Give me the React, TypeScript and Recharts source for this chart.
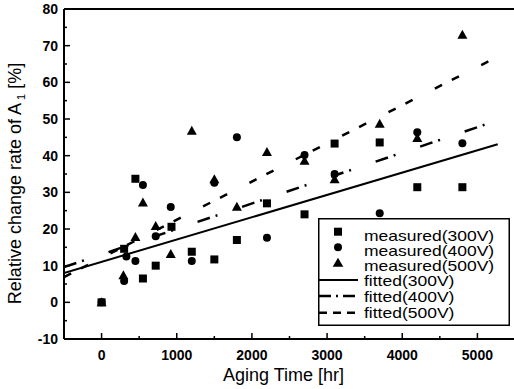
import React from 'react';
import { ComposedChart, Scatter, Line, XAxis, YAxis, ReferenceLine, Legend, Label } from 'recharts';

const FONT = '"Liberation Sans", Arial, Helvetica, sans-serif';

// measured values (hr, %)
const measured300 = [
  { x: 0, y: 0 }, { x: 300, y: 14.6 }, { x: 450, y: 33.7 }, { x: 550, y: 6.5 }, { x: 720, y: 10 },
  { x: 930, y: 20.6 }, { x: 1200, y: 13.8 }, { x: 1500, y: 11.7 }, { x: 1800, y: 17 },
  { x: 2200, y: 27 }, { x: 2700, y: 24 }, { x: 3100, y: 43.3 }, { x: 3700, y: 43.6 },
  { x: 4200, y: 31.4 }, { x: 4800, y: 31.4 },
];
const measured400 = [
  { x: 0, y: 0 }, { x: 300, y: 5.8 }, { x: 330, y: 12.5 }, { x: 450, y: 11.3 }, { x: 550, y: 32 },
  { x: 720, y: 18 }, { x: 920, y: 26 }, { x: 1200, y: 11.3 }, { x: 1500, y: 32.6 }, { x: 1800, y: 45 },
  { x: 2200, y: 17.6 }, { x: 2700, y: 40.2 }, { x: 3100, y: 35 }, { x: 3700, y: 24.3 },
  { x: 4200, y: 46.4 }, { x: 4800, y: 43.4 },
];
const measured500 = [
  { x: 0, y: 0 }, { x: 290, y: 7.4 }, { x: 450, y: 17.8 }, { x: 550, y: 27.2 }, { x: 720, y: 20.8 },
  { x: 920, y: 13.2 }, { x: 1200, y: 46.8 }, { x: 1500, y: 33.6 }, { x: 1800, y: 26.1 },
  { x: 2200, y: 41 }, { x: 2700, y: 38.6 }, { x: 3100, y: 33.6 }, { x: 3700, y: 48.7 },
  { x: 4200, y: 44.8 }, { x: 4800, y: 73 },
];
// fitted lines (end points)
const fitted300 = [{ x: -500, y: 8 }, { x: 5270, y: 43.1 }];
const fitted400 = [{ x: -500, y: 9.6 }, { x: 5250, y: 49.5 }];
const fitted500 = [{ x: -500, y: 6.9 }, { x: 5270, y: 67 }];

const xMajorTicks = [0, 1000, 2000, 3000, 4000, 5000];
const xAllTicks = [-500, 0, 500, 1000, 1500, 2000, 2500, 3000, 3500, 4000, 4500, 5000, 5500];
const yMajorTicks = [-10, 0, 10, 20, 30, 40, 50, 60, 70, 80];
const yAllTicks = [-10, -5, 0, 5, 10, 15, 20, 25, 30, 35, 40, 45, 50, 55, 60, 65, 70, 75, 80];

const legendLabels = ['measured(300V)', 'measured(400V)', 'measured(500V)', 'fitted(300V)', 'fitted(400V)', 'fitted(500V)'];

const DASH_DOT = '13 6 2 26';
const DASHED = '8 11 8 25';

const Square = (p: any) => <rect x={p.cx - 4} y={p.cy - 4} width={8} height={8} fill="#000" />;
const Dot = (p: any) => <circle cx={p.cx} cy={p.cy} r={4} fill="#000" />;
const Tri = (p: any) => (
  <polygon points={`${p.cx},${p.cy - 5} ${p.cx - 5},${p.cy + 4} ${p.cx + 5},${p.cy + 4}`} fill="#000" />
);

const YTick = (props: any) => {
  const { x, y, payload } = props;
  const major = yMajorTicks.includes(payload.value);
  return (
    <g>
      <line x1={x} y1={y} x2={x + (major ? 6 : 3)} y2={y} stroke="#000" strokeWidth={1.5} />
      {major && (
        <text x={x - 6} y={y + 5} textAnchor="end" fontSize={14} fontWeight="bold" fontFamily={FONT} fill="#000">
          {payload.value}
        </text>
      )}
    </g>
  );
};

const XTick = (props: any) => {
  const { x, y, payload } = props;
  const major = xMajorTicks.includes(payload.value);
  if (payload.value <= -500 || payload.value >= 5500) return <g />;
  return (
    <g>
      <line x1={x} y1={y} x2={x} y2={y - (major ? 6 : 3)} stroke="#000" strokeWidth={1.5} />
      {major && (
        <text x={x} y={y + 21} textAnchor="middle" fontSize={14} fontWeight="bold" fontFamily={FONT} fill="#000">
          {payload.value}
        </text>
      )}
    </g>
  );
};

const YTitle = (props: any) => {
  const vb = props.viewBox || { x: 0, y: 9, width: 64, height: 330 };
  const cx = 15;
  const cy = vb.y + vb.height / 2 + 9.5;
  return (
    <g transform={`translate(${cx}, ${cy}) rotate(-90)`}>
      <text x={0} y={6} textAnchor="middle" fontSize={18} fontFamily={FONT} fill="#000">
        Relative change rate of A
        <tspan dx={3} dy={4} fontSize={11}>1</tspan>
        <tspan dy={-4}> [%]</tspan>
      </text>
    </g>
  );
};

const XTitle = (props: any) => {
  const vb = props.viewBox || { x: 64, y: 339, width: 451, height: 50 };
  return (
    <text x={vb.x + vb.width / 2 - 6} y={381} textAnchor="middle" fontSize={18} fontFamily={FONT} fill="#000">
      Aging Time [hr]
    </text>
  );
};

const LegendBox = () => {
  const textX = 46;
  const baselines = [22.7, 37.7, 52.7, 68, 84.3, 100.3];
  return (
    <svg width={192} height={108} style={{ display: 'block' }}>
      <rect x={0.75} y={0.75} width={190.5} height={106.5} fill="#fff" stroke="#000" strokeWidth={1.5} />
      <rect x={16} y={9.7} width={8} height={8} fill="#000" />
      <circle cx={20} cy={29.3} r={4} fill="#000" />
      <polygon points={`20,39.7 14.7,48.7 25.3,48.7`} fill="#000" />
      <line x1={1} y1={62} x2={40} y2={62} stroke="#000" strokeWidth={2} />
      <line x1={1} y1={78} x2={40} y2={78} stroke="#000" strokeWidth={2.5} strokeDasharray="12 5 2 5" />
      <line x1={1} y1={94.7} x2={40} y2={94.7} stroke="#000" strokeWidth={2.5} strokeDasharray="8 6" />
      {legendLabels.map((l, i) => (
        <text
          key={l}
          x={0}
          y={0}
          transform={`translate(${textX}, ${baselines[i]}) scale(1, 0.8)`}
          fontSize={17.5}
          fontFamily={FONT}
          fill="#000"
        >
          {l}
        </text>
      ))}
    </svg>
  );
};

export default function App() {
  return (
    <div style={{ position: 'absolute', left: 0, top: 0, width: 514, height: 389, overflow: 'hidden', background: '#fff' }}>
      <ComposedChart width={516} height={389} margin={{ top: 9, right: 1, bottom: 0, left: 0 }}>
        <XAxis
          type="number"
          dataKey="x"
          domain={[-500, 5500]}
          ticks={xAllTicks}
          interval={0}
          allowDataOverflow
          tickSize={0}
          tickMargin={0}
          tick={<XTick />}
          height={50}
          axisLine={{ stroke: '#000', strokeWidth: 2 }}
        >
          <Label content={<XTitle />} />
        </XAxis>
        <YAxis
          type="number"
          dataKey="y"
          domain={[-10, 80]}
          ticks={yAllTicks}
          interval={0}
          allowDataOverflow
          tickSize={0}
          tickMargin={0}
          tick={<YTick />}
          width={64}
          axisLine={{ stroke: '#000', strokeWidth: 2 }}
        >
          <Label content={<YTitle />} />
        </YAxis>
        <ReferenceLine y={80} stroke="#000" strokeWidth={2} />
        <Line data={fitted300} dataKey="y" type="linear" stroke="#000" strokeWidth={2} dot={false} isAnimationActive={false} />
        <Line data={fitted400} dataKey="y" type="linear" stroke="#000" strokeWidth={2.5} strokeDasharray={DASH_DOT} dot={false} isAnimationActive={false} />
        <Line data={fitted500} dataKey="y" type="linear" stroke="#000" strokeWidth={2.5} strokeDasharray={DASHED} dot={false} isAnimationActive={false} />
        <Scatter data={measured300} shape={<Square />} isAnimationActive={false} />
        <Scatter data={measured400} shape={<Dot />} isAnimationActive={false} />
        <Scatter data={measured500} shape={<Tri />} isAnimationActive={false} />
        <Legend
          layout="vertical"
          align="center"
          verticalAlign="middle"
          content={<LegendBox />}
          wrapperStyle={{ left: 318, top: 218, width: 192, height: 108 }}
        />
      </ComposedChart>
    </div>
  );
}
